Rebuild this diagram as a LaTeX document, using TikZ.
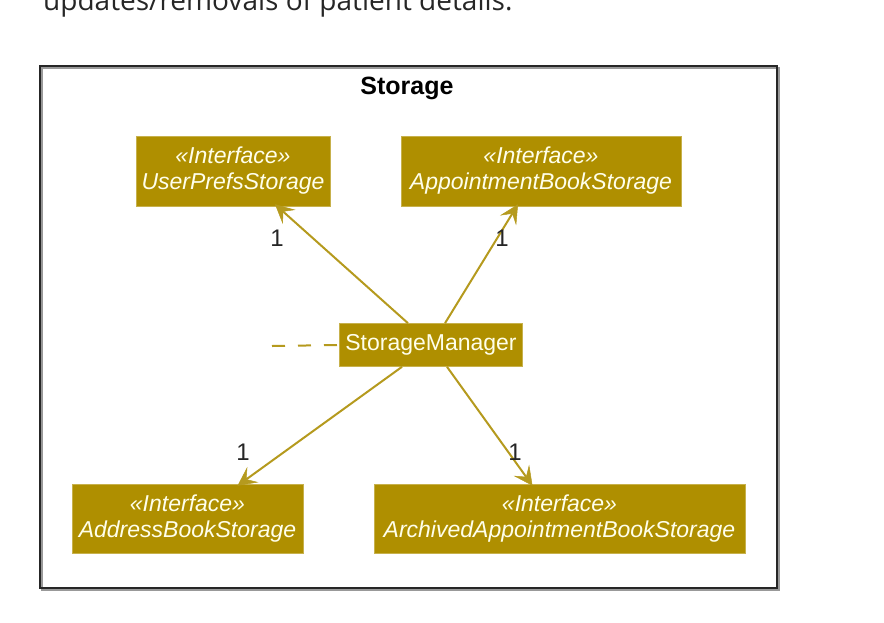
\documentclass[tikz,border=0pt]{standalone}
\usepackage{fontspec}
\setmainfont{Liberation Sans}
\newfontfamily\notefont{Open Sans}
\usetikzlibrary{arrows.meta}
\definecolor{umlgold}{RGB}{175,143,0}
\definecolor{umlline}{RGB}{181,154,30}
\definecolor{umltext}{RGB}{255,255,235}

\begin{document}
\begin{tikzpicture}[x=1pt, y=-1pt,
        cls/.style={fill=umlgold, draw=umlgold!70!white, line width=0.6pt, inner sep=0pt,
            text=umltext, align=center, font=\fontsize{23}{26}\selectfont\itshape},
        link/.style={draw=umlline, line width=2pt,
            -{Stealth[length=19pt, width=19pt, inset=8pt, line width=0.5pt]}},
        mult/.style={text=black!85, font=\fontsize{24}{24}\selectfont, inner sep=0pt}]
    \useasboundingbox (0,0) rectangle (884,622);
    \clip (0,0) rectangle (884,622);
    % text above the figure
    \node[anchor=base west, inner sep=0pt, text=black!85,
        font=\notefont\fontsize{28}{30}\selectfont] (note) at (43,10)
        {updates/removals of patient details.};
    % package frame
    \draw[black!40, line width=2pt] (41.5,67.5) rectangle (778.5,589.5);
    \draw[black!85, line width=2pt] (40,66) rectangle (777,588);
    \node[font=\fontsize{25}{27}\selectfont\bfseries] (title) at (407,88) {Storage};
    % classes
    \node[cls, minimum width=194pt, minimum height=70pt] (ups) at (233,171)
        {\guillemotleft Interface\guillemotright\\UserPrefsStorage};
    \node[cls, minimum width=280pt, minimum height=70pt] (apb) at (541,171)
        {\guillemotleft Interface\guillemotright\\AppointmentBookStorage};
    \node[cls, font=\fontsize{23}{26}\selectfont, minimum width=183pt, minimum height=43pt]
        (sm) at (431,345) {StorageManager};
    \node[cls, minimum width=231pt, minimum height=69pt] (abs) at (187.5,518.5)
        {\guillemotleft Interface\guillemotright\\AddressBookStorage};
    \node[cls, minimum width=371pt, minimum height=69pt] (aab) at (559.5,518.5)
        {\guillemotleft Interface\guillemotright\\ArchivedAppointmentBookStorage};
    % links
    \coordinate (dashend) at (272,346);
    \draw[umlline, line width=2pt, dash pattern=on 13pt off 13pt] (dashend) -- (sm.west);
    \draw[link] ([xshift=-23pt]sm.north) -- ([xshift=42pt,yshift=2pt]ups.south);
    \draw[link] ([xshift=14pt]sm.north) -- ([xshift=-23pt,yshift=2pt]apb.south);
    \draw[link] ([xshift=-29pt]sm.south) -- ([xshift=50pt,yshift=-2pt]abs.north);
    \draw[link] ([xshift=16pt]sm.south) -- ([xshift=-27pt,yshift=-2pt]aab.north);
    % multiplicities
    \node[mult] (m1) at (277,238) {1};
    \node[mult] (m2) at (502,238) {1};
    \node[mult] (m3) at (243,452) {1};
    \node[mult] (m4) at (515,452) {1};
\end{tikzpicture}
\end{document}
